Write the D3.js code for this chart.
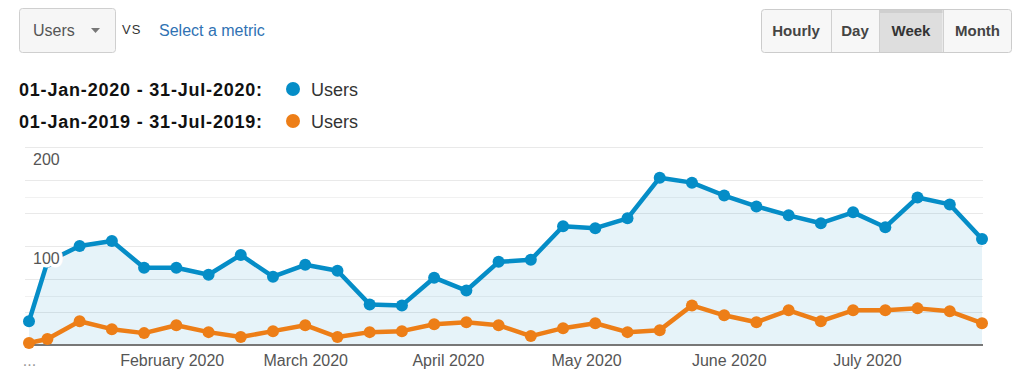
<!DOCTYPE html>
<html>
<head>
<meta charset="utf-8">
<script src="https://cdn.jsdelivr.net/npm/d3@7"></script>
<style>
  html, body { margin: 0; padding: 0; background: #fff; }
  svg { display: block; font-family: "Liberation Sans", Arial, sans-serif; }
</style>
</head>
<body>
<svg id="chart" width="1024" height="374"></svg>
<script>
// ---- data ----
const weekStarts = ["2020-01-01","2020-01-05","2020-01-12","2020-01-19","2020-01-26",
  "2020-02-02","2020-02-09","2020-02-16","2020-02-23","2020-03-01","2020-03-08",
  "2020-03-15","2020-03-22","2020-03-29","2020-04-05","2020-04-12","2020-04-19",
  "2020-04-26","2020-05-03","2020-05-10","2020-05-17","2020-05-24","2020-05-31",
  "2020-06-07","2020-06-14","2020-06-21","2020-06-28","2020-07-05","2020-07-12",
  "2020-07-19","2020-07-26"];
const users2020 = [24, 84, 100, 105, 78, 78, 71, 91, 69, 81, 75, 41, 40, 68, 55, 84,
  86, 120, 118, 128, 169, 164, 151, 140, 131, 123, 134, 119, 149, 142, 107];
const users2019 = [2, 6, 24, 16, 12, 20, 13, 8, 14, 20, 8, 13, 14, 21, 23, 20,
  9, 17, 22, 13, 15, 40, 30, 23, 35, 24, 35, 35, 37, 34, 22];
const monthTicks = ["2020-01-01","2020-02-01","2020-03-01","2020-04-01","2020-05-01","2020-06-01","2020-07-01"];
const monthLabels = ["...","February 2020","March 2020","April 2020","May 2020","June 2020","July 2020"];
const gridValues = [33.33, 50, 66.67, 100, 133.33, 150, 166.67, 200];
const yLabelValues = [100, 200];
const legendRanges = ["01-Jan-2020 - 31-Jul-2020:", "01-Jan-2019 - 31-Jul-2019:"];
const legendMetric = "Users";
const granularity = ["Hourly", "Day", "Week", "Month"];
const activeGranularity = "Week";

// ---- setup ----
const svg = d3.select("#chart");
const parse = d3.timeParse("%Y-%m-%d");
const dates = weekStarts.map(parse);
const blue = "#058dc7", orange = "#ed7e17";

const x = d3.scaleTime().domain([dates[0], dates[dates.length - 1]]).range([29, 982]);
const y = d3.scaleLinear().domain([0, 200]).range([345, 147]);

// ---- header: metric dropdown ----
const hdr = svg.append("g");
hdr.append("rect").attr("x", 19.5).attr("y", 8.5).attr("width", 96).attr("height", 44)
  .attr("rx", 3).attr("fill", "#f6f6f6").attr("stroke", "#cfcfcf");
hdr.append("text").attr("x", 33).attr("y", 36).attr("font-size", 16).attr("fill", "#555").text("Users");
hdr.append("path").attr("d", "M91,28 L100,28 L95.5,33 Z").attr("fill", "#777");
hdr.append("text").attr("x", 122).attr("y", 34).attr("font-size", 13).attr("letter-spacing", 1.2)
  .attr("fill", "#333").text("VS");
hdr.append("text").attr("x", 159).attr("y", 36).attr("font-size", 16).attr("fill", "#2f72b3").text("Select a metric");

// ---- granularity buttons ----
const btnEdges = [761, 831, 879, 943, 1012];
const bg = svg.append("g");
bg.append("rect").attr("x", 761.5).attr("y", 9.5).attr("width", 250).attr("height", 43)
  .attr("rx", 3).attr("fill", "#f7f7f7").attr("stroke", "#cccccc");
granularity.forEach((g, i) => {
  const x0 = btnEdges[i], x1 = btnEdges[i + 1];
  if (g === activeGranularity) {
    bg.append("rect").attr("x", x0 + 0.5).attr("y", 10).attr("width", x1 - x0 - 1).attr("height", 42)
      .attr("fill", "#dedede");
    bg.append("rect").attr("x", x0 + 0.5).attr("y", 10).attr("width", x1 - x0 - 1).attr("height", 3)
      .attr("fill", "#cfcfcf");
  }
  if (i > 0) bg.append("line").attr("x1", x0 + 0.5).attr("x2", x0 + 0.5).attr("y1", 10).attr("y2", 52)
    .attr("stroke", "#d0d0d0");
  bg.append("text").attr("x", (x0 + x1) / 2).attr("y", 36).attr("text-anchor", "middle")
    .attr("font-size", 15).attr("font-weight", "bold").attr("fill", g === activeGranularity ? "#333" : "#444")
    .text(g);
});

// ---- legend ----
const leg = svg.append("g");
[blue, orange].forEach((c, i) => {
  const ty = 96 + i * 32;
  leg.append("text").attr("x", 19).attr("y", ty).attr("font-size", 18).attr("font-weight", "bold")
    .attr("letter-spacing", 0.8).attr("fill", "#111").text(legendRanges[i]);
  leg.append("circle").attr("cx", 293).attr("cy", ty - 7).attr("r", 7).attr("fill", c);
  leg.append("text").attr("x", 311).attr("y", ty).attr("font-size", 18).attr("fill", "#333").text(legendMetric);
});

// ---- gridlines ----
const grid = svg.append("g");
grid.selectAll("line").data(gridValues).join("line")
  .attr("x1", 25).attr("x2", 983)
  .attr("y1", d => Math.round(y(d)) + 0.5).attr("y2", d => Math.round(y(d)) + 0.5)
  .attr("stroke", d => (d === 50 || d === 150) ? "#f1f1f1" : "#e9e9e9");

// ---- area (2020) ----
const pts2020 = dates.map((d, i) => ({ d, v: users2020[i] }));
const pts2019 = dates.map((d, i) => ({ d, v: users2019[i] }));
svg.append("path").datum(pts2020)
  .attr("d", d3.area().x(p => x(p.d)).y0(y(0)).y1(p => y(p.v)))
  .attr("fill", blue).attr("fill-opacity", 0.1);

// ---- baseline axis ----
svg.append("line").attr("x1", 25).attr("x2", 983).attr("y1", 345).attr("y2", 345)
  .attr("stroke", "#777").attr("stroke-width", 2);

const xAxis = d3.axisBottom(x)
  .tickValues(monthTicks.map(parse))
  .tickFormat((d, i) => monthLabels[i])
  .tickSize(0).tickPadding(10);
const ax = svg.append("g").attr("transform", "translate(0,345)").call(xAxis);
ax.select(".domain").remove();
ax.selectAll("text").attr("font-size", 16).attr("fill", "#555")
  .attr("font-family", "'Liberation Sans', Arial, sans-serif");
ax.selectAll("text").filter((d, i) => i === 0).attr("fill", "#999");

// ---- lines ----
const line = d3.line().x(p => x(p.d)).y(p => y(p.v));
svg.append("path").datum(pts2019).attr("d", line).attr("fill", "none")
  .attr("stroke", orange).attr("stroke-width", 4.5).attr("stroke-linejoin", "round");
svg.append("g").selectAll("circle").data(pts2019).join("circle")
  .attr("cx", p => x(p.d)).attr("cy", p => y(p.v)).attr("r", 6).attr("fill", orange);

svg.append("path").datum(pts2020).attr("d", line).attr("fill", "none")
  .attr("stroke", blue).attr("stroke-width", 4.5).attr("stroke-linejoin", "round");
svg.append("g").selectAll("circle").data(pts2020).join("circle")
  .attr("cx", p => x(p.d)).attr("cy", p => y(p.v)).attr("r", 6).attr("fill", blue);

// ---- y labels (drawn over the lines with a white halo) ----
svg.append("g").selectAll("text").data(yLabelValues).join("text")
  .attr("x", 33).attr("y", d => y(d) + 17.5)
  .attr("font-size", 16).attr("fill", "#555")
  .attr("stroke", "#fff").attr("stroke-width", 7).attr("stroke-linejoin", "round")
  .attr("paint-order", "stroke")
  .text(d => d);
</script>
</body>
</html>
